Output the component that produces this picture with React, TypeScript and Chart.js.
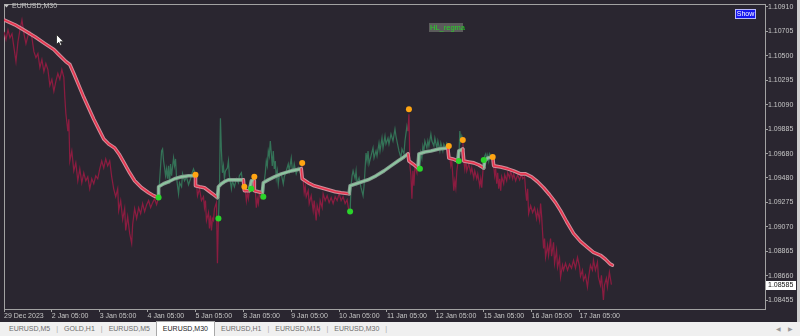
import React, { useEffect, useRef } from "react";
import { Chart, registerables } from "chart.js";

Chart.register(...registerables);

const chartTitle = "EURUSD,M30";
const indicatorLabel = "HL_regma";
const buttonLabel = "Show";

const yTickValues = [1.1091, 1.10705, 1.105, 1.10295, 1.1009, 1.09885, 1.0968, 1.0948, 1.09275, 1.0907, 1.08865, 1.0866, 1.08455];
const xTickBars = [0, 48, 96, 144, 192, 240, 288, 336, 384, 433, 481, 529, 577];
const xTickLabels = ["29 Dec 2023", "2 Jan 05:00", "3 Jan 05:00", "4 Jan 05:00", "5 Jan 05:00", "8 Jan 05:00", "9 Jan 05:00", "10 Jan 05:00", "11 Jan 05:00", "12 Jan 05:00", "15 Jan 05:00", "16 Jan 05:00", "17 Jan 05:00"];

// up-trend bar ranges (price coloured green inside them)
const upStart = [155, 215, 248, 260, 347, 417, 456, 481];
const upEnd = [192, 241, 251, 299, 405, 446, 460, 490];

const priceBar = [
  0, 2, 4, 6, 8, 10, 12, 14, 16, 18,
  20, 22, 24, 26, 28, 30, 32, 34, 36, 38,
  40, 42, 44, 46, 48, 50, 52, 54, 56, 58,
  60, 61, 62, 64, 65, 66, 68, 70, 72, 74,
  76, 78, 80, 82, 84, 86, 88, 90, 92, 94,
  96, 98, 100, 102, 104, 106, 108, 110, 112, 114,
  115, 117, 119, 121, 122, 124, 126, 128, 129, 131,
  133, 135, 137, 139, 141, 143, 145, 147, 149, 151,
  153, 155,
  156, 157, 158, 159, 160, 161, 162, 163, 164, 165,
  166, 167, 168, 170, 171, 172, 173, 174, 175, 176,
  178, 179, 181, 183, 185, 187, 188, 190, 192,
  193, 194, 196, 198, 200, 201, 202, 203, 205, 206,
  207, 208, 209, 210, 211, 213, 214, 215,
  216, 217, 218, 219, 220, 221, 222, 224, 225, 226,
  228, 229, 231, 233, 235, 236, 238, 239, 240, 241,
  242, 243, 244, 245, 246, 248,
  249, 250, 251,
  252, 253, 254, 255, 256, 258, 260,
  261, 262, 263, 264, 265, 266, 267, 268, 269, 270,
  271, 272, 273, 274, 275, 276, 278, 280, 281, 283,
  285, 286, 288, 289, 290, 291, 293, 295, 297, 299,
  300, 301, 302, 303, 305, 306, 308, 310, 311, 313,
  314, 316, 317, 319, 320, 322, 324, 326, 328, 330,
  332, 334, 336, 338, 340, 342, 344, 346, 347,
  348, 349, 350, 352, 353, 354, 356, 358, 360, 361,
  363, 364, 365, 366, 368, 370, 371, 373, 374, 376,
  377, 379, 380, 382, 383, 385, 386, 388, 390, 392,
  393, 395, 396, 398, 399, 401, 402, 404, 405,
  406, 407, 408, 409, 410, 411, 412, 414, 415, 417,
  418, 419, 420, 421, 422, 424, 425, 426, 428, 429,
  431, 432, 434, 435, 437, 438, 440, 441, 443, 444,
  446,
  447, 448, 449, 450, 451, 452, 453, 454, 455, 456,
  457, 458, 459, 460,
  461, 462, 463, 464, 466, 468, 469, 471, 472, 474,
  475, 477, 478, 479, 481,
  482, 483, 484, 485, 486, 487, 488, 490,
  491, 492, 493, 494, 495, 496, 497, 498, 499, 501,
  502, 504, 505, 507, 508, 510, 511, 513, 515, 517,
  519, 520, 522, 523, 524, 525, 526, 528, 530, 532,
  534, 535, 537, 538, 539, 540, 541, 542, 543, 545,
  546, 548, 549, 551, 552, 554, 555, 557, 558, 560,
  561, 563, 565, 567, 569, 571, 573, 575, 577, 578,
  580, 581, 583, 585, 586, 588, 590, 591, 593, 595,
  596, 598, 599, 601, 602, 604, 605, 607, 609,
];

const priceClose = [
  1.10702, 1.10636, 1.10719, 1.10652, 1.10686, 1.10569, 1.10453, 1.10619, 1.10719, 1.10802,
  1.10686, 1.10603, 1.10669, 1.10702, 1.10652, 1.10536, 1.10486, 1.10519, 1.10403, 1.10469,
  1.10369, 1.10436, 1.10386, 1.10253, 1.10303, 1.10203, 1.10286, 1.10353, 1.10303, 1.10386,
  1.1032, 1.10153, 1.1002, 1.0987, 1.0997, 1.0962, 1.09704, 1.09537, 1.09604, 1.09454,
  1.09554, 1.09437, 1.09521, 1.09454, 1.09487, 1.09387, 1.09471, 1.09429, 1.09496, 1.09471,
  1.09554, 1.0962, 1.09562, 1.09637, 1.09579, 1.0962, 1.09487, 1.09387, 1.09321, 1.09387,
  1.09204, 1.09288, 1.0913, 1.09221, 1.09038, 1.09154, 1.09013, 1.0893, 1.09088, 1.09221,
  1.09138, 1.09229, 1.09179, 1.09263, 1.09196, 1.09254, 1.09288, 1.09229, 1.09271, 1.09304,
  1.09254, 1.09313,
  1.09454, 1.09579, 1.09704, 1.0972, 1.0962, 1.09562, 1.09496, 1.09554, 1.09471, 1.09579,
  1.09429, 1.09595, 1.09496, 1.09645, 1.09579, 1.09637, 1.09479, 1.09412, 1.09346, 1.09437,
  1.09404, 1.09512, 1.09454, 1.09487, 1.09421, 1.09471, 1.09504, 1.09554, 1.09504,
  1.09437, 1.09329, 1.09387, 1.09288, 1.09321, 1.09229, 1.09288, 1.09121, 1.09188, 1.09055,
  1.09163, 1.09038, 1.09138, 1.09121, 1.09221, 1.09271, 1.08763, 1.09138,
  1.09371, 1.09978, 1.09704, 1.09521, 1.09579, 1.09471, 1.09537, 1.09562, 1.0962, 1.09496,
  1.09387, 1.09454, 1.09404, 1.09471, 1.09437, 1.09496, 1.09521, 1.09454, 1.09404, 1.09404,
  1.09371, 1.09288, 1.09354, 1.09304, 1.09371, 1.09387,
  1.09454, 1.09487, 1.09487,
  1.09371, 1.09229, 1.09304, 1.09263, 1.09346, 1.09304, 1.09321,
  1.09454, 1.09521, 1.0962, 1.09579, 1.09704, 1.09662, 1.09787, 1.09687, 1.09579, 1.09704,
  1.09554, 1.0962, 1.09479, 1.09537, 1.09429, 1.09496, 1.09512, 1.09429, 1.09487, 1.09537,
  1.09595, 1.09537, 1.09645, 1.09554, 1.09537, 1.09595, 1.09512, 1.09562, 1.09521, 1.09604,
  1.09454, 1.09354, 1.09404, 1.09321, 1.09371, 1.09263, 1.09329, 1.09204, 1.09288, 1.09121,
  1.09246, 1.09179, 1.09288, 1.09229, 1.09346, 1.09288, 1.09329, 1.09271, 1.09313, 1.09263,
  1.09321, 1.09288, 1.09346, 1.09288, 1.09321, 1.09263, 1.09296, 1.09188, 1.09196,
  1.09412, 1.09496, 1.09537, 1.09471, 1.09537, 1.09429, 1.09479, 1.09396, 1.09329, 1.09412,
  1.09687, 1.0962, 1.09704, 1.09595, 1.09662, 1.09729, 1.09645, 1.09704, 1.09662, 1.0977,
  1.09704, 1.09812, 1.09729, 1.09829, 1.09762, 1.09812, 1.09762, 1.09845, 1.09787, 1.09887,
  1.09829, 1.09745, 1.09704, 1.09645, 1.0972, 1.09679, 1.09787, 1.09912, 1.0987,
  1.10012, 1.09579, 1.09496, 1.09304, 1.09537, 1.09412, 1.09579, 1.09521, 1.0962, 1.09554,
  1.09687, 1.09645, 1.09745, 1.09704, 1.09787, 1.09729, 1.09787, 1.09745, 1.09845, 1.09787,
  1.09745, 1.09812, 1.09729, 1.09787, 1.09704, 1.0977, 1.09704, 1.09762, 1.09729, 1.0977,
  1.09745,
  1.09645, 1.09579, 1.0962, 1.09496, 1.09371, 1.09454, 1.09396, 1.09537, 1.09595, 1.0962,
  1.0987, 1.09787, 1.09829, 1.09795,
  1.0962, 1.09554, 1.09637, 1.09537, 1.09595, 1.09521, 1.09562, 1.09479, 1.09537, 1.09471,
  1.09512, 1.09412, 1.09471, 1.09396, 1.09629,
  1.09662, 1.09679, 1.09637, 1.0967, 1.0962, 1.09679, 1.09662, 1.09654,
  1.09579, 1.09496, 1.09554, 1.09429, 1.09521, 1.09387, 1.09471, 1.09371, 1.09487, 1.09429,
  1.09504, 1.09454, 1.09521, 1.09479, 1.09537, 1.09471, 1.09512, 1.09454, 1.09504, 1.09462,
  1.09512, 1.09471, 1.09487, 1.09371, 1.09288, 1.09387, 1.09179, 1.09246, 1.09188, 1.09229,
  1.09138, 1.09204, 1.09121, 1.09263, 1.09163, 1.09021, 1.08888, 1.08971, 1.08813, 1.08913,
  1.0883, 1.08971, 1.08822, 1.08938, 1.08763, 1.08871, 1.0873, 1.08805, 1.08647, 1.08747,
  1.08705, 1.08763, 1.08705, 1.08755, 1.08722, 1.08788, 1.08722, 1.08813, 1.08738, 1.08655,
  1.08705, 1.08622, 1.08663, 1.08564, 1.08638, 1.08747, 1.08705, 1.08788, 1.08705, 1.08772,
  1.08647, 1.0858, 1.08663, 1.08455, 1.0858, 1.08638, 1.08564, 1.08688, 1.08585,
];

const maBar = [
  0, 11, 18, 31, 41, 50, 55, 62, 66, 70, 75, 80, 85, 90, 95, 100, 105, 111, 116, 121, 126, 131, 138, 145, 150, 155,
  155, 160, 165, 171, 178, 185, 192,
  192, 196, 201, 205, 209, 214,
  215, 218, 221, 225, 233, 240,
  241, 246,
  248, 251,
  251, 255, 259,
  260, 265, 271, 278, 288, 298,
  299, 305, 311, 318, 325, 332, 338, 346,
  347, 353, 359, 365, 373, 381, 388, 395, 401, 405,
  406, 410, 415,
  416, 422, 428, 436, 445,
  446, 450, 455,
  456, 460,
  461, 466, 471, 476, 481,
  482, 485, 490,
  491, 498, 505, 511, 518, 523, 529, 535, 541, 547, 553, 558, 564, 571, 578, 585, 591, 598, 603, 608, 610,
];

const maValue = [
  1.10802, 1.10761, 1.10727, 1.10661, 1.10603, 1.10553, 1.10511, 1.10453, 1.10428, 1.10353, 1.10253, 1.10153, 1.10062, 1.0997, 1.09887, 1.09804, 1.09762, 1.09729, 1.0967, 1.09595, 1.09521, 1.09454, 1.09396, 1.09354, 1.09329, 1.09313,
  1.09404, 1.09429, 1.09446, 1.09471, 1.09487, 1.09496, 1.09496,
  1.09412, 1.09404, 1.09396, 1.09371, 1.09346, 1.09313,
  1.09404, 1.09429, 1.09446, 1.09462, 1.09462, 1.09462,
  1.09371, 1.09371,
  1.09454, 1.09454,
  1.09371, 1.09362, 1.09354,
  1.09437, 1.09462, 1.09487, 1.09512, 1.09537, 1.09554,
  1.09471, 1.09437, 1.09412, 1.09396, 1.09379, 1.09362, 1.09354, 1.09346,
  1.09412, 1.09429, 1.09446, 1.09462, 1.09496, 1.09537, 1.09579, 1.0962, 1.09654, 1.09679,
  1.0962, 1.09595, 1.09562,
  1.09679, 1.09695, 1.09704, 1.0972, 1.09729,
  1.09645, 1.09637, 1.0962,
  1.09704, 1.0972,
  1.0962, 1.09612, 1.09604, 1.09587, 1.09562,
  1.0962, 1.09645, 1.09654,
  1.09579, 1.0957, 1.09554, 1.09537, 1.09512, 1.09512, 1.09487, 1.09446, 1.09396, 1.09337, 1.09271, 1.09204, 1.09113, 1.09013, 1.08946, 1.08896, 1.08855, 1.0883, 1.08797, 1.08755, 1.08747,
];

const maUp = [
  0, 0, 0, 0, 0, 0, 0, 0, 0, 0, 0, 0, 0, 0, 0, 0, 0, 0, 0, 0, 0, 0, 0, 0, 0, 0,
  1, 1, 1, 1, 1, 1, 1,
  0, 0, 0, 0, 0, 0,
  1, 1, 1, 1, 1, 1,
  0, 0,
  1, 1,
  0, 0, 0,
  1, 1, 1, 1, 1, 1,
  0, 0, 0, 0, 0, 0, 0, 0,
  1, 1, 1, 1, 1, 1, 1, 1, 1, 1,
  0, 0, 0,
  1, 1, 1, 1, 1,
  0, 0, 0,
  1, 1,
  0, 0, 0, 0, 0,
  1, 1, 1,
  0, 0, 0, 0, 0, 0, 0, 0, 0, 0, 0, 0, 0, 0, 0, 0, 0, 0, 0, 0, 0,
];

const peakBar = [192, 241, 251, 299, 406, 446, 460, 490];
const peakValue = [1.09504, 1.09404, 1.09487, 1.09604, 1.10053, 1.09745, 1.09795, 1.09654];
const troughBar = [155, 215, 248, 260, 347, 417, 456, 481];
const troughValue = [1.09313, 1.09138, 1.09387, 1.09321, 1.09196, 1.09554, 1.0962, 1.09629];

const tabNames = ["EURUSD,M5", "GOLD,H1", "EURUSD,M5", "EURUSD,M30", "EURUSD,H1", "EURUSD,M15", "EURUSD,M30"];
const activeTab = 3;

const BG = "#2a2630";
const FRAME = "#a2a2a2";
const TXT = "#c6c6c6";
const FONT = "'Liberation Sans', Arial, sans-serif";

const isUp = (a: number, b: number) => upStart.some((s, i) => a >= s && b <= upEnd[i]);

const decor = {
  id: "decor",
  beforeDraw(chart: any) {
    const { ctx, width, height } = chart;
    ctx.save();
    ctx.fillStyle = BG;
    ctx.fillRect(0, 0, width, height);
    ctx.restore();
  },
  beforeDatasetsDraw(chart: any) {
    const { ctx, chartArea: a } = chart;
    ctx.save();
    ctx.strokeStyle = FRAME;
    ctx.lineWidth = 1;
    ctx.strokeRect(Math.round(a.left) + 0.5, Math.round(a.top) + 0.5, Math.round(a.right - a.left), Math.round(a.bottom - a.top));
    ctx.restore();
  },
  afterDraw(chart: any) {
    const { ctx, chartArea: a } = chart;
    const ys = chart.scales.y;
    ctx.save();
    ctx.textBaseline = "middle";
    // title
    ctx.fillStyle = TXT;
    ctx.beginPath();
    ctx.moveTo(4, 4.5);
    ctx.lineTo(9, 4.5);
    ctx.lineTo(6.5, 7.5);
    ctx.closePath();
    ctx.fill();
    ctx.font = `7px ${FONT}`;
    ctx.textAlign = "left";
    ctx.fillText(chartTitle, 12, 6.5);
    // indicator label
    ctx.fillStyle = "#5b5b5b";
    ctx.fillRect(429, 23, 34, 9);
    ctx.fillStyle = "#27d027";
    ctx.font = `7.5px ${FONT}`;
    ctx.fillText(indicatorLabel, 430, 27.5);
    // Show button
    ctx.fillStyle = "#1616f0";
    ctx.fillRect(735, 9, 21, 10);
    ctx.strokeStyle = "#b8b8ff";
    ctx.strokeRect(735.5, 9.5, 20, 9);
    ctx.fillStyle = "#ffffff";
    ctx.font = `7px ${FONT}`;
    ctx.textAlign = "center";
    ctx.fillText(buttonLabel, 745.5, 14.2);
    // current price label
    const last = priceClose[priceClose.length - 1];
    const py = Math.round(ys.getPixelForValue(last));
    ctx.fillStyle = "#ffffff";
    ctx.fillRect(a.right + 1, py - 4, 30, 9);
    ctx.fillStyle = "#111111";
    ctx.textAlign = "left";
    ctx.fillText(last.toFixed(5), a.right + 3, py + 0.5);
    // mouse cursor
    ctx.beginPath();
    ctx.moveTo(56.5, 34.5);
    ctx.lineTo(56.5, 44.5);
    ctx.lineTo(58.8, 42.3);
    ctx.lineTo(60.3, 45.5);
    ctx.lineTo(61.8, 44.8);
    ctx.lineTo(60.3, 41.7);
    ctx.lineTo(63.5, 41.7);
    ctx.closePath();
    ctx.fillStyle = "#ffffff";
    ctx.fill();
    ctx.strokeStyle = "#222222";
    ctx.lineWidth = 0.8;
    ctx.stroke();
    // right window edge
    ctx.fillStyle = "#cfcfcf";
    ctx.fillRect(797, 0, 3, chart.height);
    ctx.restore();
  },
};

export default function App() {
  const ref = useRef<HTMLCanvasElement | null>(null);

  useEffect(() => {
    if (!ref.current) return;
    const priceData = priceBar.map((x, i) => ({ x, y: priceClose[i] }));
    const maData = maBar.map((x, i) => ({ x, y: maValue[i] }));
    const peaks = peakBar.map((x, i) => ({ x, y: peakValue[i] }));
    const troughs = troughBar.map((x, i) => ({ x, y: troughValue[i] }));

    const chart = new Chart(ref.current, {
      type: "line",
      data: {
        datasets: [
          {
            data: peaks,
            showLine: false,
            pointRadius: 3,
            pointBackgroundColor: "#ffa512",
            pointBorderWidth: 0,
            order: 0,
          },
          {
            data: troughs,
            showLine: false,
            pointRadius: 3,
            pointBackgroundColor: "#2ad42a",
            pointBorderWidth: 0,
            order: 0,
          },
          {
            data: maData,
            borderWidth: 1.6,
            pointRadius: 0,
            tension: 0,
            borderJoinStyle: "round",
            borderCapStyle: "round",
            borderColor: "#e8344e",
            segment: {
              borderColor: (c: any) => (maUp[c.p1DataIndex] ? "#8cc8a0" : "#e8344e"),
            },
            order: 1,
          },
          {
            data: maData,
            borderWidth: 3.6,
            pointRadius: 0,
            tension: 0,
            borderJoinStyle: "round",
            borderCapStyle: "round",
            borderColor: "#cf8e9b",
            segment: {
              borderColor: (c: any) => (maUp[c.p1DataIndex] ? "#869d90" : "#cf8e9b"),
            },
            order: 2,
          },
          {
            data: priceData,
            borderWidth: 1.25,
            pointRadius: 0,
            tension: 0,
            borderColor: "#8b1c40",
            segment: {
              borderColor: (c: any) => (isUp(c.p0.parsed.x, c.p1.parsed.x) ? "#347257" : "#8b1c40"),
            },
            order: 3,
          },
        ],
      } as any,
      options: {
        responsive: false,
        animation: false,
        events: [],
        layout: { padding: { left: 2, top: 2, right: 0, bottom: 0 } },
        plugins: { legend: { display: false }, tooltip: { enabled: false } },
        scales: {
          x: {
            type: "linear",
            position: "bottom",
            min: 0,
            max: 763,
            afterBuildTicks: (s: any) => {
              s.ticks = xTickBars.map((v) => ({ value: v }));
            },
            afterFit: (s: any) => {
              s.height = 13;
              s.paddingLeft = 0;
              s.paddingRight = 0;
            },
            grid: { drawOnChartArea: false, drawTicks: true, tickLength: 3, color: FRAME },
            border: { display: false },
            ticks: {
              autoSkip: false,
              maxRotation: 0,
              minRotation: 0,
              align: "start",
              padding: 0,
              color: TXT,
              font: { family: FONT, size: 7 },
              callback: (_v: any, i: number) => xTickLabels[i],
            },
          },
          y: {
            type: "linear",
            position: "right",
            min: 1.0838,
            max: 1.10935,
            afterBuildTicks: (s: any) => {
              s.ticks = yTickValues.map((v) => ({ value: v }));
            },
            afterFit: (s: any) => {
              s.width = 35;
              s.paddingTop = 0;
              s.paddingBottom = 0;
            },
            grid: { drawOnChartArea: false, drawTicks: true, tickLength: 3, color: FRAME },
            border: { display: false },
            ticks: {
              padding: 0,
              color: TXT,
              font: { family: FONT, size: 7 },
              callback: (v: any) => Number(v).toFixed(5),
            },
          },
        },
      } as any,
      plugins: [decor],
    });
    return () => chart.destroy();
  }, []);

  const tabEls: React.ReactNode[] = [];
  tabNames.forEach((name, i) => {
    const active = i === activeTab;
    tabEls.push(
      <div
        key={"t" + i}
        style={{
          padding: "0 6px",
          height: active ? 15 : 14,
          marginTop: active ? -1 : 0,
          background: active ? "#ffffff" : "transparent",
          border: active ? "1px solid #a8a8a8" : "none",
          borderBottom: "none",
          color: active ? "#1e1e1e" : "#6e6e6e",
          lineHeight: "14px",
          boxSizing: "border-box",
          whiteSpace: "nowrap",
        }}
      >
        {name}
      </div>
    );
    const nextActive = i + 1 === activeTab;
    if (!active && !nextActive) {
      tabEls.push(
        <div key={"s" + i} style={{ color: "#a8a8a8", lineHeight: "14px" }}>
          |
        </div>
      );
    }
  });

  return (
    <div style={{ position: "fixed", left: 0, top: 0, width: 800, height: 336, background: BG, overflow: "hidden" }}>
      <canvas ref={ref} width={800} height={322} style={{ display: "block", width: 800, height: 322 }} />
      <div
        style={{
          position: "absolute",
          left: 0,
          top: 322,
          width: 800,
          height: 14,
          background: "#f0f0f0",
          display: "flex",
          alignItems: "flex-start",
          paddingLeft: 3,
          boxSizing: "border-box",
          fontFamily: FONT,
          fontSize: 7,
        }}
      >
        {tabEls}
        <div style={{ position: "absolute", left: 776, top: 0, color: "#9a9a9a", lineHeight: "14px", fontSize: 6 }}>◀</div>
        <div style={{ position: "absolute", left: 788, top: 0, color: "#9a9a9a", lineHeight: "14px", fontSize: 6 }}>▶</div>
      </div>
    </div>
  );
}
